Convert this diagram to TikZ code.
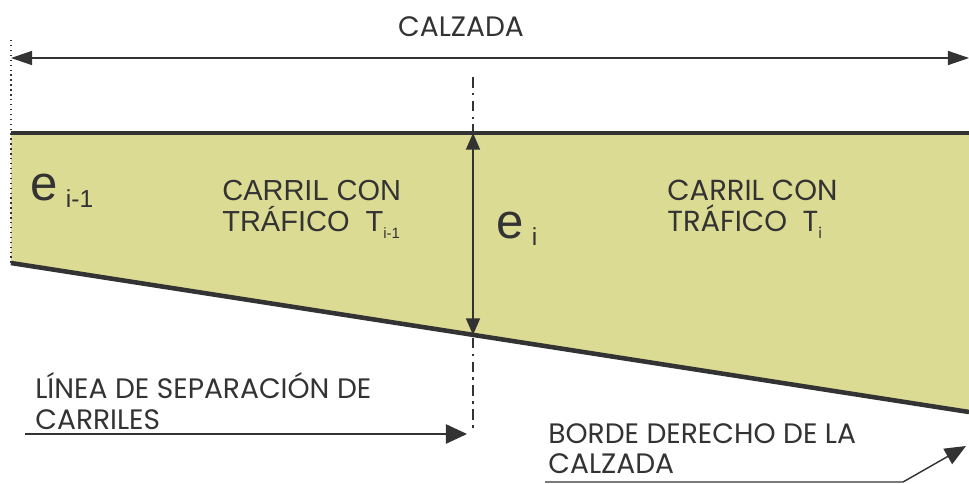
\documentclass[tikz,border=0pt]{standalone}
\usepackage{fontspec}
\setmainfont{Poppins}
\newfontfamily\arialfont{Liberation Sans}
\usetikzlibrary{arrows.meta}
\definecolor{lanefill}{RGB}{219,219,147}
\definecolor{linegray}{RGB}{51,51,51}
\tikzset{
  labeltext/.style={font=\fontsize{16}{17.5}\selectfont, text=linegray, align=left, inner sep=0pt},
  lanetext/.style={labeltext, font=\arialfont\fontsize{16.5}{17.5}\selectfont},
  thickness/.style={font=\arialfont\fontsize{28}{30}\selectfont, text=linegray, inner sep=0pt},
  pointer/.style={draw=linegray, line width=0.8pt, -{Triangle[length=12pt,width=10pt]}},
}
\newcommand{\sub}[1]{\raisebox{-0.45ex}{\fontsize{8.5}{8.5}\selectfont #1}}
\begin{document}
\begin{tikzpicture}[x=0.02cm,y=-0.02cm]
    \useasboundingbox (0,0) rectangle (969,483);
    %% corners of the pavement section
    \coordinate (TL) at (11,133);
    \coordinate (TR) at (969,133);
    \coordinate (BR) at (969,412);
    \coordinate (BL) at (11,263);
    \coordinate (MT) at (473,133);
    \coordinate (MB) at (473,335);
    %% lane area
    \fill[lanefill] (TL) -- (TR) -- (BR) -- (BL) -- cycle;
    \draw[linegray,line width=2.8pt] (TL) -- (TR);
    \draw[linegray,line width=2.6pt] (BL) -- (BR);
    %% left edge and lane separation
    \coordinate (LE) at (11,40);
    \draw[linegray,dotted,line width=0.8pt] (LE) -- (BL);
    \coordinate (SepTop) at (473,77);
    \coordinate (SepBot) at (473,432);
    \draw[linegray,line width=1pt,dash pattern=on 6pt off 3pt on 1.5pt off 3pt] (SepTop) -- (SepBot);
    %% width of the carriageway
    \coordinate (CL) at (11,58);
    \coordinate (CR) at (969,58);
    \draw[pointer,{Triangle[length=12pt,width=8pt]}-{Triangle[length=12pt,width=8pt]}] (CL) -- (CR);
    \node[labeltext,anchor=south] (calzada) at (461,37) {CALZADA};
    %% thickness e_i
    \draw[linegray,line width=0.8pt,{Triangle[length=9.5pt,width=8pt]}-{Triangle[length=9.5pt,width=8pt]}] (MT) -- (MB);
    %% thickness labels
    \node[thickness,anchor=base west] (eprev) at (30,200) {e\,\raisebox{-0.3ex}{\fontsize{14}{14}\selectfont i-1}};
    \node[thickness,anchor=base west] (ecur) at (496,238) {e\,\raisebox{-0.3ex}{\fontsize{14}{14}\selectfont i}};
    %% lanes
    \node[lanetext,anchor=north west] (laneprev) at (222,180) {CARRIL CON\\TRÁFICO \ T\sub{i-1}};
    \node[labeltext,font=\fontsize{16.5}{17.5}\selectfont,anchor=north west] (lanecur) at (667,180) {CARRIL CON\\TRÁFICO \ T\sub{i}};
    %% callouts
    \node[labeltext,anchor=north west] (seplabel) at (35,372) {LÍNEA DE SEPARACIÓN DE\\CARRILES};
    \coordinate (SepStart) at (25,434);
    \coordinate (SepEnd) at (467,434);
    \draw[pointer,-{Triangle[length=12pt,width=11pt]}] (SepStart) -- (SepEnd);
    \node[labeltext,anchor=north west] (edgelabel) at (548,423) {BORDE DERECHO DE LA\\CALZADA};
    \coordinate (EdgeStart) at (545,482);
    \coordinate (EdgeBend) at (903,482);
    \coordinate (EdgeEnd) at (966,446);
    \draw[pointer] (EdgeStart) -- (EdgeBend) -- (EdgeEnd);
\end{tikzpicture}
\end{document}
